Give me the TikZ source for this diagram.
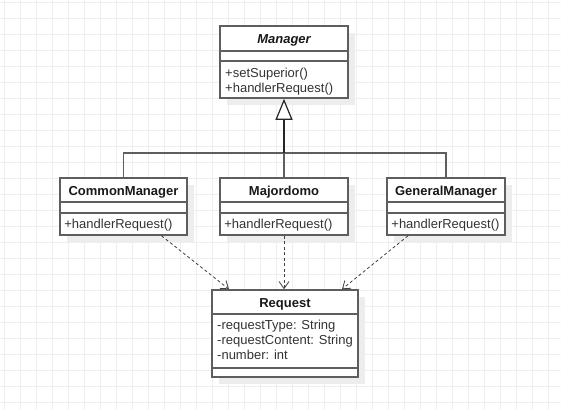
\documentclass[tikz,border=0pt]{standalone}
\usepackage{fontspec}
\setmainfont{Liberation Sans}
\usetikzlibrary{arrows.meta,shadows}
\definecolor{gridgray}{HTML}{EFEFEF}
\definecolor{linegray}{HTML}{5E5E5E}
\definecolor{shadowgray}{HTML}{EDEDED}
\definecolor{textgray}{HTML}{333333}

\begin{document}
\begin{tikzpicture}[x=1pt,y=-1pt,
		class box/.style={draw=linegray,line width=1.6pt,fill=white,inner sep=0pt,
			drop shadow={shadow xshift=7pt,shadow yshift=-7pt,fill=shadowgray,opacity=1}},
		sep line/.style={draw=linegray,line width=1.6pt},
		class name/.style={font=\fontsize{13}{15}\selectfont\bfseries,text=black!90,inner sep=0pt,anchor=base},
		member/.style={font=\fontsize{13}{15}\selectfont,text=textgray,align=left,inner sep=0pt},
		extends/.style={draw=linegray,line width=1.4pt},
		uses/.style={draw=black!75,line width=0.8pt,dash pattern=on 3pt off 2.5pt,-{Straight Barb[length=7pt,width=10pt]}}]
		\useasboundingbox (0,0) rectangle (561,410);
		\fill[white] (0,0) rectangle (561,410);
		% 背景网格
		\foreach \gx in {4,20,...,560} \draw[gridgray,line width=0.8pt] (\gx,0) -- (\gx,410);
		\foreach \gy in {2,18,...,410} \draw[gridgray,line width=0.8pt] (0,\gy) -- (561,\gy);
		% 抽象类
		\node[class box,minimum width=128pt,minimum height=72pt] (mgr) at (284,62) {};
		\draw[sep line] (mgr.west |- 0,51) -- (mgr.east |- 0,51);
		\draw[sep line] (mgr.west |- 0,61) -- (mgr.east |- 0,61);
		\node[class name] (mgr-name) at (284,43) {\itshape Manager};
		\node[member,anchor=north west] (mgr-ops) at (225,67.5) {+setSuperior()\\+handlerRequest()};
		% 具体处理者
		\node[class box,minimum width=127pt,minimum height=57pt] (cm) at (123.5,206.5) {};
		\node[class box,minimum width=128pt,minimum height=57pt] (maj) at (284,206.5) {};
		\node[class box,minimum width=118pt,minimum height=57pt] (gm) at (446,206.5) {};
		\foreach \cls in {cm,maj,gm} {
			\draw[sep line] (\cls.west |- 0,202) -- (\cls.east |- 0,202);
			\draw[sep line] (\cls.west |- 0,213) -- (\cls.east |- 0,213);
			\node[member,anchor=base west] (\cls-ops) at ([xshift=5pt]\cls.west |- 0,228.6) {+handlerRequest()};
		}
		\node[class name] (cm-name) at (123.5,195.3) {CommonManager};
		\node[class name] (maj-name) at (284,195.3) {Majordomo};
		\node[class name] (gm-name) at (446,195.3) {GeneralManager};
		% 请求
		\node[class box,minimum width=146pt,minimum height=87pt] (req) at (285,333.5) {};
		\draw[sep line] (req.west |- 0,314) -- (req.east |- 0,314);
		\draw[sep line] (req.west |- 0,368) -- (req.east |- 0,368);
		\node[class name] (req-name) at (285,307) {Request};
		\node[member,anchor=north west] (req-attrs) at (217,320.3) {-requestType: String\\-requestContent: String\\-number: int};
		% 继承
		\coordinate (joint) at (284,153);
		\draw[extends] (cm.north) |- (joint);
		\draw[extends] (gm.north) |- (joint);
		\draw[extends] (maj.north) -- (joint);
		\draw[black!85,line width=2pt,-{Triangle[length=21pt,width=17pt,fill=white,line width=1.2pt]}] (joint) -- (mgr.south);
		% 依赖
		\draw[uses] ([xshift=38pt]cm.south) -- ([xshift=-56pt]req.north);
		\draw[uses] (maj.south) -- (maj.south |- req.north);
		\draw[uses] ([xshift=-38pt]gm.south) -- ([xshift=57pt]req.north);
\end{tikzpicture}
\end{document}
